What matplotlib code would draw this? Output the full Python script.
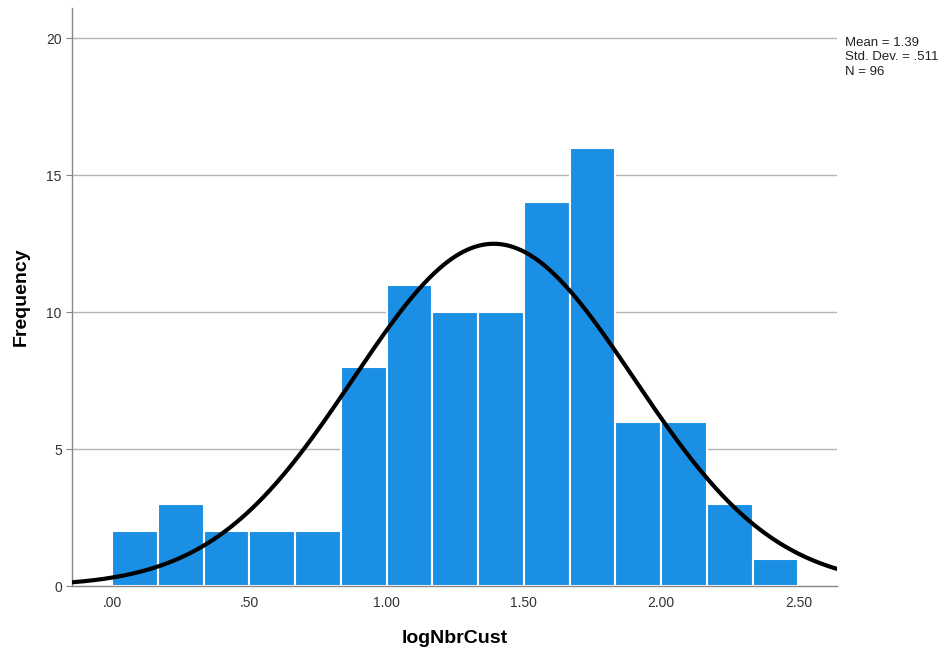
import numpy as np
import matplotlib
matplotlib.use("Agg")
import matplotlib.pyplot as plt

plt.rcParams['font.family'] = ['Liberation Sans', 'DejaVu Sans']

# histogram data
counts = [2, 3, 2, 2, 2, 8, 11, 10, 10, 14, 16, 6, 6, 3, 1]
bin_lo, bin_hi = 0.0, 2.5
mean_val = 1.39
sd_val = 0.511
n_obs = 96

x_ticks = [0.0, 0.5, 1.0, 1.5, 2.0, 2.5]
x_ticklabels = [".00", ".50", "1.00", "1.50", "2.00", "2.50"]
y_ticks = [0, 5, 10, 15, 20]

edges = np.linspace(bin_lo, bin_hi, len(counts) + 1)
width = edges[1] - edges[0]

fig = plt.figure(figsize=(9.51, 6.57), dpi=100)
ax = fig.add_axes([0.076, 0.108, 0.804, 0.88])

for y in y_ticks[1:]:
    ax.axhline(y, color='#b4b4b4', lw=1.0, zorder=0)

ax.bar(edges[:-1], counts, width=width, align='edge', color='#1a8fe3',
       edgecolor='white', linewidth=1.5, zorder=2)

xlim = (-0.145, 2.64)
xs = np.linspace(xlim[0], xlim[1], 400)
pdf = np.exp(-0.5 * ((xs - mean_val) / sd_val) ** 2) / (sd_val * np.sqrt(2 * np.pi))
ax.plot(xs, pdf * n_obs * width, color='black', lw=3.0, zorder=3, solid_capstyle='round')

ax.set_xlim(*xlim)
ax.set_ylim(0, 21.1)
ax.set_xticks(x_ticks)
ax.set_xticklabels(x_ticklabels)
ax.set_yticks(y_ticks)
ax.tick_params(axis='x', length=0, labelsize=10, labelcolor='#333333', pad=7.5)
ax.tick_params(axis='y', length=4, color='#888888', labelsize=10, labelcolor='#333333')

for s in ['top', 'right']:
    ax.spines[s].set_visible(False)
for s in ['left', 'bottom']:
    ax.spines[s].set_color('#888888')
    ax.spines[s].set_linewidth(1.0)

ax.set_xlabel("logNbrCust", fontsize=14, fontweight='bold', labelpad=14)
ax.set_ylabel("Frequency", fontsize=14, fontweight='bold', labelpad=12)

fig.text(0.889, 0.944, "Mean = 1.39\nStd. Dev. = .511\nN = 96",
         fontsize=9.5, va='top', ha='left', linespacing=1.3, color='#222222')

fig.savefig("out.png", dpi=100)
